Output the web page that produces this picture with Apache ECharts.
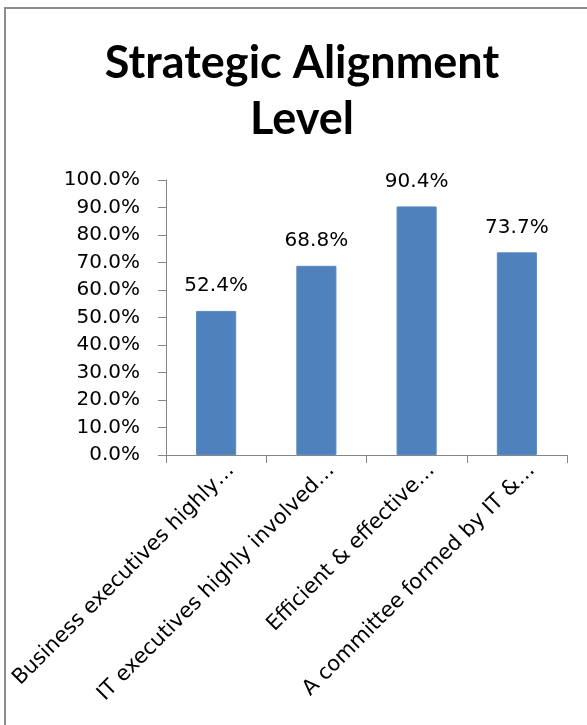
<!DOCTYPE html>
<html>
<head>
<meta charset="utf-8">
<style>
  html, body { margin: 0; padding: 0; background: #ffffff; }
  #chart { width: 587px; height: 725px; }
</style>
<script src="https://cdn.jsdelivr.net/npm/echarts@6/dist/echarts.min.js"></script>
</head>
<body>
<div id="chart"></div>
<script>
// Share of respondents reporting each strategic alignment practice (%)
const categories = [
  'Business executives highly\u2026',
  'IT executives highly involved\u2026',
  'Efficient & effective\u2026',
  'A committee formed by IT &\u2026'
];
const alignmentValues = [52.4, 68.8, 90.4, 73.7];
const titleLines = ['Strategic Alignment', 'Level'];

const axisGray = '#868686';
const barBlue = '#4f81bd';
const labelFont = 'DejaVu Sans';

const chart = echarts.init(document.getElementById('chart'), null, { renderer: 'canvas' });

chart.setOption({
  backgroundColor: '#ffffff',
  animation: false,
  title: {
    text: titleLines.join('\n'),
    left: 297,
    textAlign: 'center',
    top: 30,
    textStyle: {
      fontFamily: 'Lato',
      fontWeight: 'bold',
      fontSize: 45,
      lineHeight: 56,
      color: '#000000'
    }
  },
  graphic: [{
    type: 'rect',
    shape: { x: 5, y: 8, width: 620, height: 760 },
    style: { fill: 'none', stroke: '#8c8c8c', lineWidth: 2 },
    silent: true
  }],
  grid: { left: 166, right: 20, top: 180, bottom: 270, containLabel: false },
  xAxis: {
    type: 'category',
    data: categories,
    axisLine: { show: true, lineStyle: { color: axisGray, width: 1 } },
    axisTick: { show: true, alignWithLabel: false, length: 8, lineStyle: { color: axisGray } },
    axisLabel: {
      interval: 0,
      rotate: 45,
      margin: 27,
      padding: [0, -21, 0, 0],
      fontFamily: labelFont,
      fontSize: 21,
      color: '#000000'
    }
  },
  yAxis: {
    type: 'value',
    min: 0,
    max: 100,
    interval: 10,
    axisLine: { show: true, lineStyle: { color: axisGray, width: 1 } },
    axisTick: { show: true, length: 8, lineStyle: { color: axisGray } },
    splitLine: { show: false },
    axisLabel: {
      margin: 26,
      fontFamily: labelFont,
      fontSize: 20,
      color: '#000000',
      formatter: v => v.toFixed(1) + '%'
    }
  },
  series: [{
    type: 'bar',
    data: alignmentValues,
    barWidth: '40%',
    itemStyle: { color: barBlue, borderColor: '#5b8ac4', borderWidth: 1 },
    label: {
      show: true,
      position: 'top',
      distance: 15,
      fontFamily: labelFont,
      fontSize: 20,
      color: '#000000',
      formatter: p => p.value.toFixed(1) + '%'
    }
  }]
});
</script>
</body>
</html>
